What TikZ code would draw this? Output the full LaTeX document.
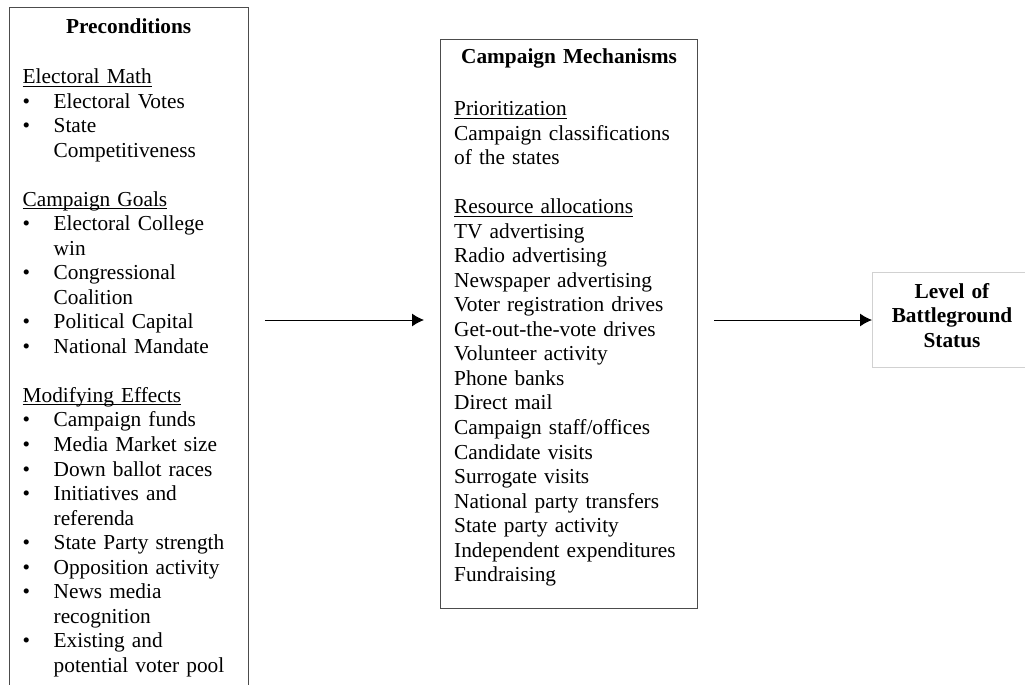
\documentclass[tikz,border=0pt]{standalone}
\usepackage{fontspec}
\setmainfont{Liberation Serif}
\usepackage{xcolor}
\usetikzlibrary{positioning,arrows.meta}

% underlined section heading, bullet line, continued bullet line
\newsavebox{\headbox}
\newcommand{\uhead}[1]{\leavevmode\sbox{\headbox}{#1}\rlap{\rule[-2.2pt]{\wd\headbox}{0.7pt}}\usebox{\headbox}}
\newcommand{\bitem}[1]{\leavevmode\makebox[23.25pt][l]{\textbullet}#1}
\newcommand{\bcont}[1]{\hspace*{23.25pt}#1}

\tikzset{
    panel/.style={draw=black!70, line width=0.75pt, anchor=north west,
        inner xsep=10.25pt, inner ysep=0pt, align=left,
        font=\fontsize{16pt}{18.4pt}\selectfont},
    outcome/.style={draw=black!18, line width=0.75pt, align=center,
        inner xsep=10.25pt, minimum height=71.25pt,
        font=\fontsize{16pt}{18.4pt}\selectfont\bfseries},
    flow/.style={->, line width=0.75pt, shorten <=12pt, shorten >=12pt}
}

\begin{document}
\begin{tikzpicture}[x=0.75pt, y=-0.75pt, >={Latex[length=9pt,width=9.75pt]}]

\useasboundingbox (0,0) rectangle (1025,685);
\clip (0,0) rectangle (1025,685);

% ===========================
% LEFT: Preconditions
% ===========================
\node[panel, text width=159pt] (pre) at (8.5,7.5) {%
    \rule{0pt}{19.1pt}\makebox[\hsize]{\bfseries Preconditions}\\[19.15pt]
    \uhead{Electoral Math}\\
    \bitem{Electoral Votes}\\
    \bitem{State}\\
    \bcont{Competitiveness}\\[18.4pt]
    \uhead{Campaign Goals}\\
    \bitem{Electoral College}\\
    \bcont{win}\\
    \bitem{Congressional}\\
    \bcont{Coalition}\\
    \bitem{Political Capital}\\
    \bitem{National Mandate}\\[18.4pt]
    \uhead{Modifying Effects}\\
    \bitem{Campaign funds}\\
    \bitem{Media Market size}\\
    \bitem{Down ballot races}\\
    \bitem{Initiatives and}\\
    \bcont{referenda}\\
    \bitem{State Party strength}\\
    \bitem{Opposition activity}\\
    \bitem{News media}\\
    \bcont{recognition}\\
    \bitem{Existing and}\\
    \bcont{potential voter pool}\rule[-40pt]{0pt}{0pt}};

% ===========================
% MIDDLE: Campaign Mechanisms
% ===========================
\node[panel, text width=172.25pt] (mech) at (440,39) {%
    \rule{0pt}{18pt}\makebox[\hsize]{\bfseries Campaign Mechanisms}\\[20.65pt]
    \uhead{Prioritization}\\
    Campaign classifications\\
    of the states\\[18.4pt]
    \uhead{Resource allocations}\\
    TV advertising\\
    Radio advertising\\
    Newspaper advertising\\
    Voter registration drives\\
    Get-out-the-vote drives\\
    Volunteer activity\\
    Phone banks\\
    Direct mail\\
    Campaign staff/offices\\
    Candidate visits\\
    Surrogate visits\\
    National party transfers\\
    State party activity\\
    Independent expenditures\\
    Fundraising\rule[-19.9pt]{0pt}{0pt}};

% ===========================
% RIGHT: Outcome
% ===========================
\node[outcome, text width=98.75pt] (stat) at (952,320)
    {\rule{0pt}{15pt}Level of\\ Battleground\\ Status\rule[-11pt]{0pt}{0pt}};

% Arrows
\draw[flow] (pre.east |- stat.west) -- (mech.west |- stat.west);
\draw[flow, shorten >=0pt] (mech.east |- stat.west) -- (stat.west);

\end{tikzpicture}
\end{document}
